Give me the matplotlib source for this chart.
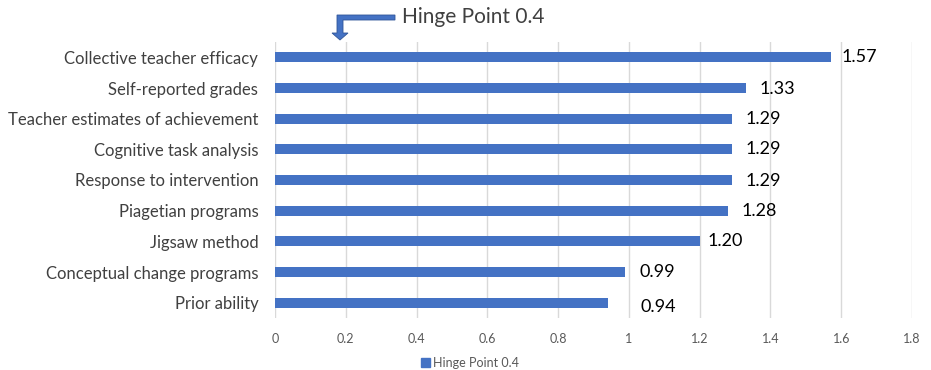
import matplotlib
matplotlib.use("Agg")
import matplotlib.pyplot as plt
from matplotlib.patches import Polygon, Patch

plt.rcParams['font.family'] = ['Lato', 'DejaVu Sans']

categories = [
    "Collective teacher efficacy",
    "Self-reported grades",
    "Teacher estimates of achievement",
    "Cognitive task analysis",
    "Response to intervention",
    "Piagetian programs",
    "Jigsaw method",
    "Conceptual change programs",
    "Prior ability",
]
effect_sizes = [1.57, 1.33, 1.29, 1.29, 1.29, 1.28, 1.20, 0.99, 0.94]
value_labels = ["1.57", "1.33", "1.29", "1.29", "1.29", "1.28", "1.20", "0.99", "0.94"]
x_ticks = [0, 0.2, 0.4, 0.6, 0.8, 1, 1.2, 1.4, 1.6, 1.8]
x_tick_labels = ["0", "0.2", "0.4", "0.6", "0.8", "1", "1.2", "1.4", "1.6", "1.8"]
series_name = "Hinge Point 0.4"

# label placement nudges (points) for each value label
label_dx = [8, 10, 10, 10, 10, 10, 6, 10, 24]
label_dy = [0, -1, 0, 0, -1, 0, 0, 0, -3]

W, H = 931, 370
fig = plt.figure(figsize=(W / 100, H / 100), dpi=100)
ax = fig.add_axes([275 / W, 1 - 318 / H, (912 - 275) / W, (318 - 42) / H])

bar_color = "#4472C4"
ypos = list(range(len(categories)))
ax.barh(ypos, effect_sizes, height=0.32, color=bar_color, zorder=3)

ax.set_xlim(0, 1.8)
ax.set_ylim(len(categories) - 0.5, -0.5)
ax.set_yticks(ypos)
ax.set_yticklabels(categories, fontsize=12, color="#404040")
ax.set_xticks(x_ticks)
ax.set_xticklabels(x_tick_labels, fontsize=9, color="#595959")
ax.tick_params(axis="both", length=0)
ax.tick_params(axis="y", pad=12)
ax.tick_params(axis="x", pad=11)
ax.grid(axis="x", color="#D9D9D9", linewidth=1, zorder=0)
for s in ax.spines.values():
    s.set_visible(False)

for y, v, txt, dx, dy in zip(ypos, effect_sizes, value_labels, label_dx, label_dy):
    ax.annotate(txt, xy=(v, y), xytext=(dx, dy), textcoords="offset points",
                ha="left", va="center", fontsize=13, color="#000000")

# bent arrow pointing down into the plot, with its caption
def px(x, y):
    return (x / W, 1 - y / H)

arrow_pts = [px(395, 15), px(395, 20), px(343, 20), px(343, 33), px(348, 33),
             px(340, 40), px(332, 33), px(337, 33), px(337, 15)]
fig.patches.append(Polygon(arrow_pts, closed=True, transform=fig.transFigure,
                           facecolor=bar_color, edgecolor="#2F5597", linewidth=0.6))
fig.text(402 / W, 1 - 17 / H, "Hinge Point 0.4", fontsize=15, color="#404040",
         ha="left", va="center")

fig.legend(handles=[Patch(color=bar_color, label=series_name)],
           loc="center", bbox_to_anchor=(470 / W, 1 - 363 / H), frameon=False,
           fontsize=9, handlelength=0.7, handleheight=0.7, handletextpad=0.3,
           labelcolor="#595959")

fig.savefig("out.png", dpi=100)
